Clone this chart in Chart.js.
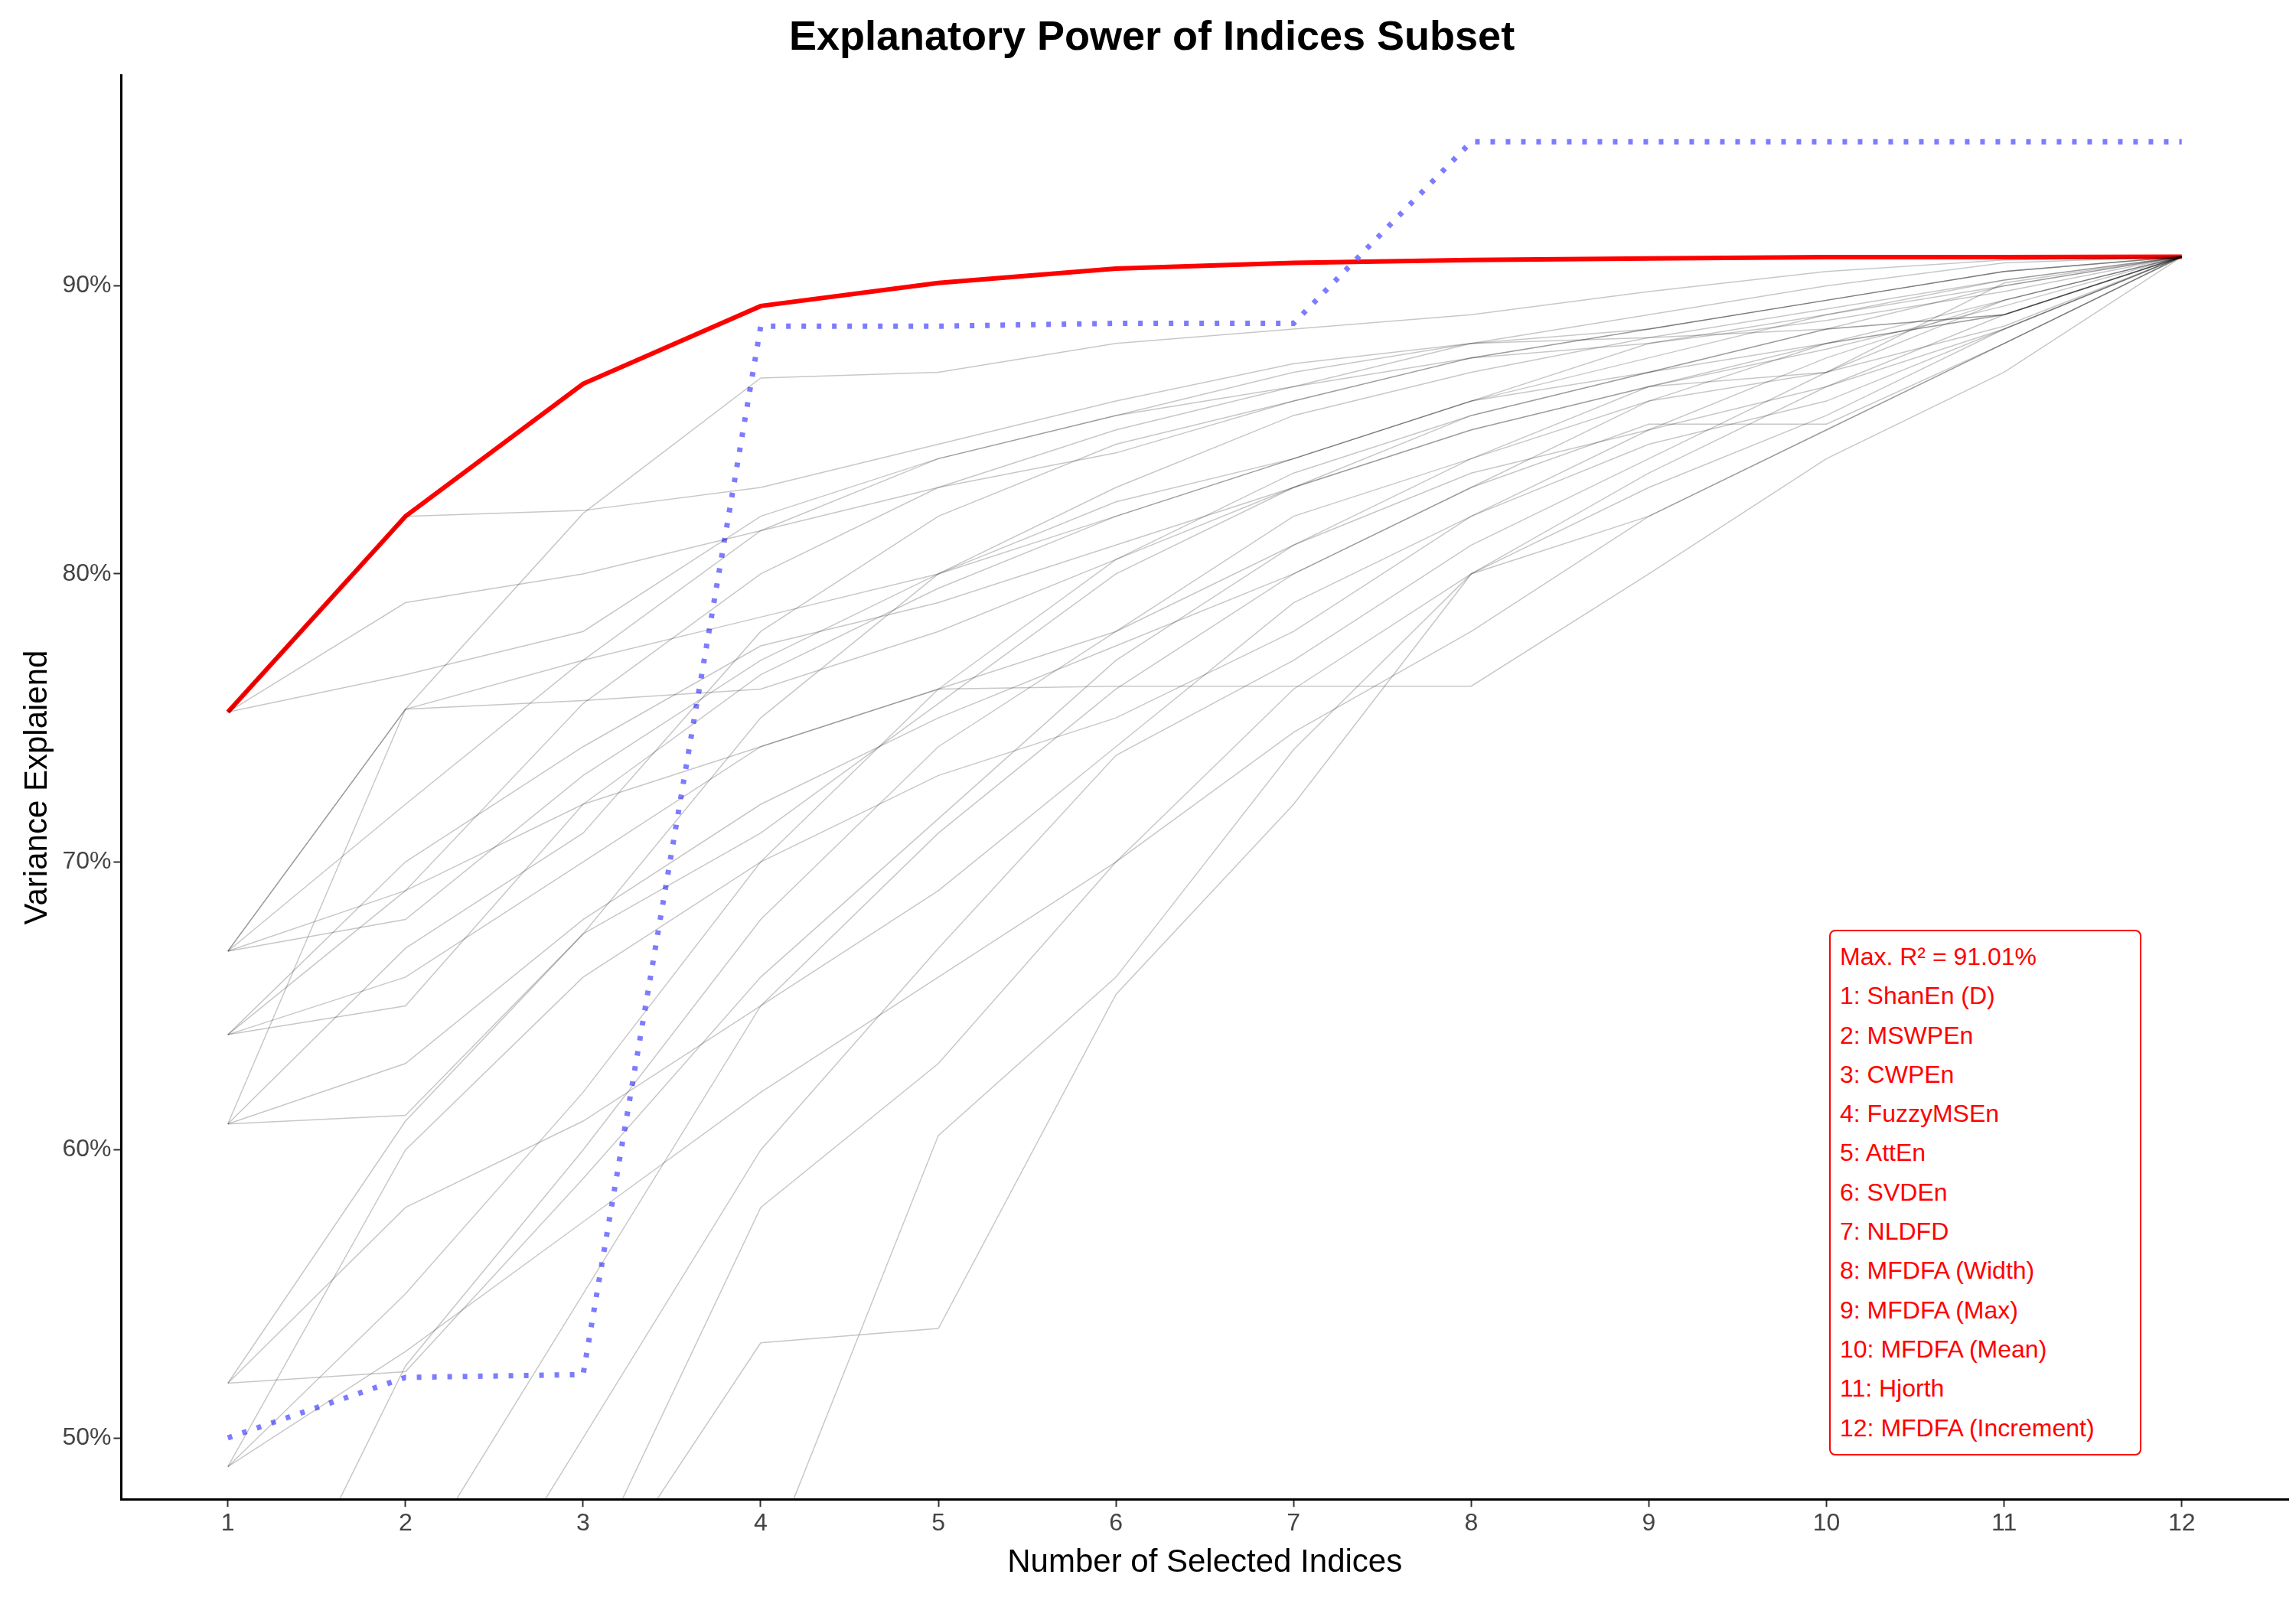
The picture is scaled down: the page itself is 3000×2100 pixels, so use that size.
<!DOCTYPE html>
<html>
<head>
<meta charset="utf-8">
<script src="https://cdn.jsdelivr.net/npm/chart.js@4"></script>
<style>
  body { margin: 0; background: #fff; font-family: Arial, "Liberation Sans", sans-serif; }
  #wrap { position: relative; width: 3000px; height: 2100px; }
  #box { position: absolute; left: 2390px; top: 1215px; width: 392px; padding: 8px 0 8px 12px;
         border: 2px solid #ff0000; border-radius: 8px; color: #ff0000; font-size: 32px; line-height: 51.3px; background: #fff; }
</style>
</head>
<body>
<div id="wrap">
  <canvas id="c" width="3000" height="2100"></canvas>
  <div id="box"></div>
</div>
<script>
const xValues = [1, 2, 3, 4, 5, 6, 7, 8, 9, 10, 11, 12];
const yTicks = [50, 60, 70, 80, 90];
const bestSubset = [75.2, 82.0, 86.6, 89.3, 90.1, 90.6, 90.8, 90.9, 90.95, 91.0, 91.0, 91.01];
const dottedLine = [50.0, 52.1, 52.2, 88.6, 88.6, 88.7, 88.7, 95.0, 95.0, 95.0, 95.0, 95.0];
const legendLines = ["Max. R² = 91.01%", "1: ShanEn (D)", "2: MSWPEn", "3: CWPEn", "4: FuzzyMSEn", "5: AttEn",
  "6: SVDEn", "7: NLDFD", "8: MFDFA (Width)", "9: MFDFA (Max)", "10: MFDFA (Mean)", "11: Hjorth", "12: MFDFA (Increment)"];
// a sample of the grey subset paths
const subsets = [
  [66.9,75.3,82.1,86.8,87.0,88.0,88.5,89.0,89.8,90.5,90.9,91.01],
  [64.0,69.0,75.5,80.0,83.0,85.0,86.5,88.0,89.0,90.0,90.8,91.01],
  [60.9,67.0,71.0,78.0,82.0,84.5,86.0,87.5,88.5,89.5,90.5,91.01],
  [51.9,61.0,67.5,75.0,80.0,83.0,85.5,87.0,88.2,89.2,90.2,91.01],
  [49.0,55.0,62.0,70.0,76.0,80.5,83.5,85.5,87.0,88.5,89.0,91.01],
  [40,52.5,60,68,74,78,82,84,86,87,88.6,91.01],
  [75.2,76.5,78,82,84,85.5,87,88,88.5,89.5,90.5,91.01],
  [66.9,72.0,77.0,81.5,84.0,85.5,86.5,87.5,88.0,88.8,89.8,91.01],
  [30,45,55,65,71,76,80,83,85.2,85.2,88,91.01],
  [64,65,72,76.5,79.5,82,84,86,87,88,89,91.01],
  [60.9,61.2,67.5,71,75.5,80,83,85.5,87,88.5,90,91.01],
  [51.9,52.3,59,66,71.5,77,81,84,86.5,87,90.1,91.01],
  [30,40,50,60,67,73.7,77,81,84,87,89.5,91.01],
  [20,35,44,53.3,53.8,65.4,72,80,82,85,88,91.01],
  [75.2,79,80,81.5,83,84.2,86,87.5,88.5,89.5,90.5,91.01],
  [49,60,66,70,73,75,78,82,85,87.5,89.5,91.01],
  [66.9,68,73,77,80,82.5,84,86,87.5,89,90,91.01],
  [10,20,35,45,60.5,66,73.9,80,83,85.5,88.5,91.01],
  [64,70,74,77.5,79,81,83,85,86.5,88,89,91.01],
  [75.2,82,82.2,83,84.5,86,87.3,88,88.2,88.5,89,91.01],
  [60.9,63,68,72,75,77.5,80,83,86,88,89.5,91.01],
  [51.9,58,61,65,69,74,79,82,84.5,86,88.5,91.01],
  [66.9,75.3,75.6,76,78,80.5,83,85,86.5,87.8,89.3,91.01],
  [64,66,70,74,76,76.1,76.1,76.1,80,84,87,91.01],
  [49,53,57.5,62,66,70,74.5,78,82,85,88,91.01],
  [60.9,75.3,77,78.5,80,82,84,86,88,89,90.2,91.01],
  [20,30,45,58,63,70,76,80,83.5,86.5,89,91.01],
  [66.9,69,72,74,76,78,81,83.5,85,86.5,88.5,91.01]
];

document.getElementById("box").innerHTML = legendLines.map(t => "<div>" + t + "</div>").join("");

const toPts = arr => arr.map((v, i) => ({ x: xValues[i], y: v }));
const datasets = subsets.map(s => ({
  data: toPts(s), borderColor: "rgba(0,0,0,0.22)", borderWidth: 1.5, pointRadius: 0, fill: false
}));
datasets.push({ data: toPts(dottedLine), borderColor: "rgba(110,110,255,0.9)", borderWidth: 7,
  borderDash: [6, 14], pointRadius: 0, fill: false });
datasets.push({ data: toPts(bestSubset), borderColor: "#ff0000", borderWidth: 6, pointRadius: 0, fill: false });

const gridOpts = { display: true, drawOnChartArea: false, drawTicks: true, tickLength: 10, tickColor: "#333", tickWidth: 2 };

new Chart(document.getElementById("c"), {
  type: "line",
  data: { datasets: datasets },
  options: {
    responsive: false, devicePixelRatio: 1, animation: false,
    layout: { padding: { left: 20, right: 10, top: 10, bottom: 28 } },
    plugins: {
      legend: { display: false }, tooltip: { enabled: false },
      title: { display: true, text: "Explanatory Power of Indices Subset", color: "#000",
        font: { size: 54, weight: "bold", family: "Arial, Liberation Sans" }, padding: { top: 8, bottom: 16 } }
    },
    scales: {
      x: {
        type: "linear", min: 0.4, max: 12.6,
        afterBuildTicks: ax => { ax.ticks = xValues.map(v => ({ value: v })); },
        grid: gridOpts,
        border: { color: "#000", width: 3 },
        ticks: { color: "#444", font: { size: 32, family: "Arial, Liberation Sans" } },
        title: { display: true, text: "Number of Selected Indices", color: "#000",
          font: { size: 42, family: "Arial, Liberation Sans" } }
      },
      y: {
        min: 47.87, max: 97.3,
        afterBuildTicks: ax => { ax.ticks = yTicks.map(v => ({ value: v })); },
        grid: gridOpts,
        border: { color: "#000", width: 3 },
        ticks: { color: "#444", font: { size: 32, family: "Arial, Liberation Sans" }, callback: v => v + "%" },
        title: { display: true, text: "Variance Explaiend", color: "#000",
          font: { size: 42, family: "Arial, Liberation Sans" } }
      }
    }
  }
});
</script>
</body>
</html>
